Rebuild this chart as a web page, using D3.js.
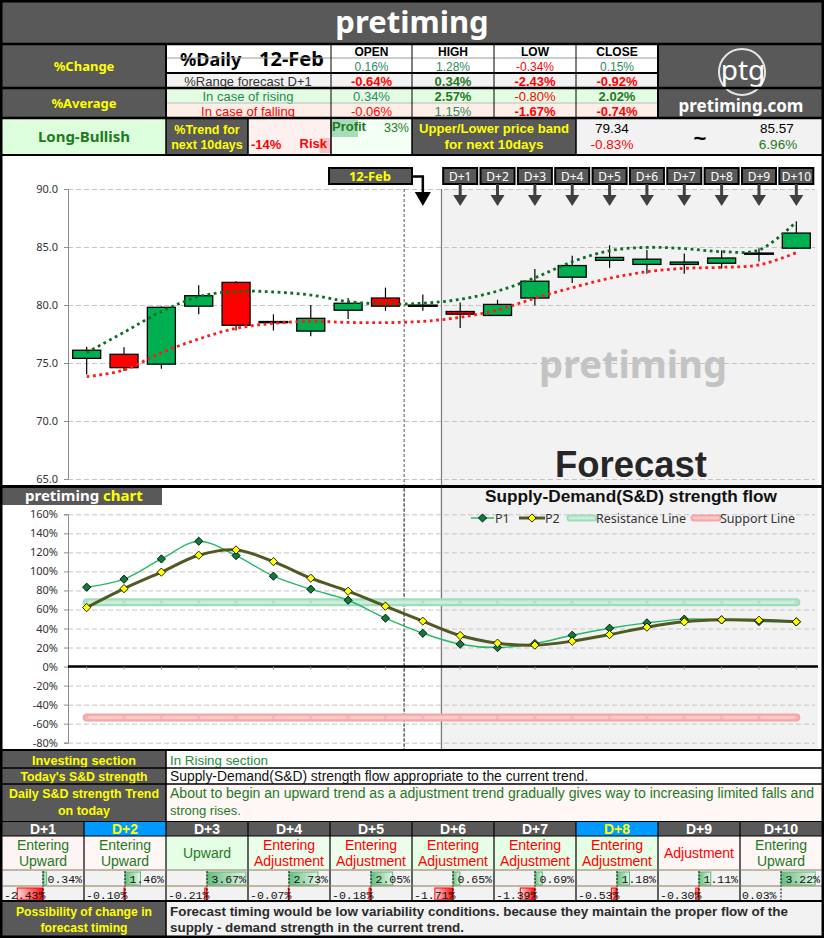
<!DOCTYPE html>
<html>
<head>
<meta charset="utf-8">
<script src="https://cdn.jsdelivr.net/npm/d3@7"></script>
<style>
  html, body { margin: 0; padding: 0; background: #fff; }
  svg { display: block; }
</style>
</head>
<body>
<svg id="board" width="824" height="938"></svg>
<script>
// ---------- data ----------
const days = ["D-9","D-8","D-7","D-6","D-5","D-4","D-3","D-2","D-1","12-Feb",
              "D+1","D+2","D+3","D+4","D+5","D+6","D+7","D+8","D+9","D+10"];
const openPx  = [75.4, 75.75, 74.9, 79.9, 81.95, 78.5, 77.75, 79.55, 80.6, 79.93,
                 79.44, 79.1, 80.6, 82.4, 83.85, 83.5, 83.5, 83.6, 84.4, 84.9];
const highPx  = [76.4, 76.35, 79.9, 81.7, 82.05, 79.2, 80.0, 80.6, 81.5, 80.9,
                 80.22, 80.45, 83.1, 84.25, 85.15, 84.75, 84.45, 84.7, 84.9, 87.2];
const lowPx   = [74.0, 74.3, 74.5, 79.2, 77.8, 77.8, 77.3, 78.8, 79.5, 79.5,
                 78.01, 79.1, 79.95, 81.9, 83.2, 82.7, 82.7, 83.15, 83.75, 84.9];
const closePx = [76.1, 74.6, 79.8, 80.8, 78.25, 78.55, 78.85, 80.15, 79.9, 79.95,
                 79.21, 80.05, 82.05, 83.4, 84.1, 83.95, 83.7, 84.05, 84.45, 86.2];
const upperBand = [75.9, 77.65, 79.43, 80.72, 81.18, 81.12, 80.86, 80.29, 80.09, 80.15,
                   80.49, 81.2, 82.35, 83.73, 84.68, 84.97, 84.86, 84.6, 84.74, 87.18];
const lowerBand = [73.82, 74.4, 75.89, 77.07, 77.99, 78.42, 78.59, 78.5, 78.48, 78.59,
                   78.94, 79.57, 80.58, 81.49, 82.3, 82.87, 83.16, 83.25, 83.45, 84.51];
const priceTicks = [65, 70, 75, 80, 85, 90];

const p1 = [83.4, 91.8, 113.1, 131.7, 116.6, 95.0, 81.3, 69.7, 50.8, 35.0,
            23.5, 20.0, 24.2, 32.9, 40.3, 45.9, 49.8, 49.1, 47.3, 47.0];
const p2 = [62.0, 81.9, 99.2, 117.0, 122.6, 110.3, 92.9, 79.2, 63.4, 47.7,
            32.6, 24.6, 22.5, 26.7, 33.6, 41.4, 47.0, 49.1, 48.7, 47.0];
const resistanceLevel = 67.6;
const supportLevel = -53.5;
const sdTicks = [-80, -60, -40, -20, 0, 20, 40, 60, 80, 100, 120, 140, 160];

const ohlcHeads = ["OPEN", "HIGH", "LOW", "CLOSE"];
const dailyChange   = [0.16, 1.28, -0.34, 0.15];
const rangeForecast = [-0.64, 0.34, -2.43, -0.92];
const avgRising     = [0.34, 2.57, -0.80, 2.02];
const avgFalling    = [-0.06, 1.15, -1.67, -0.74];
const trendProfit = 33, trendRisk = -14;
const bandLow = 79.34, bandLowPct = -0.83, bandHigh = 85.57, bandHighPct = 6.96;

const forecastDays = ["D+1","D+2","D+3","D+4","D+5","D+6","D+7","D+8","D+9","D+10"];
const forecastStatus = [["Entering","Upward"],["Entering","Upward"],["Upward"],
  ["Entering","Adjustment"],["Entering","Adjustment"],["Entering","Adjustment"],
  ["Entering","Adjustment"],["Entering","Adjustment"],["Adjustment"],["Entering","Upward"]];
const riseRates = [0.34, 1.46, 3.67, 2.73, 2.05, 0.65, 0.69, 1.18, 1.11, 3.22];
const fallRates = [-2.43, -0.10, -0.21, -0.07, -0.18, -1.71, -1.39, -0.53, -0.30, 0.03];
const highlightDays = ["D+2", "D+8"];

const investingSection = "In Rising section";
const todayStrength = "Supply-Demand(S&D) strength flow appropriate to the current trend.";
const dailyTrend = ["About to begin an upward trend as a adjustment trend gradually gives way to increasing limited falls and",
                    "strong rises."];
const timingNote = ["Forecast timing would be low variability conditions. because they maintain the proper flow of the",
                    "supply - demand strength in the current trend."];

// ---------- drawing helpers ----------
const svg = d3.select("#board");
const SANS = '"Noto Sans","Open Sans","DejaVu Sans",sans-serif';
const TAB = '"Liberation Sans",Arial,sans-serif';
const NARROW = '"Liberation Sans Narrow","Liberation Sans",Arial,sans-serif';
const MONO = '"Liberation Mono","DejaVu Sans Mono",monospace';
const DARK = "#595959", YEL = "#ffff00", TEAL = "#2d8a64", GRN = "#1e7a1e", RED = "#ff0000";

function rect(x, y, w, h, fill, g = svg) {
  return g.append("rect").attr("x", x).attr("y", y).attr("width", w).attr("height", h).attr("fill", fill);
}
// text; when a width is given, the run is shrunk if needed and stretched to that width
function text(x, y, s, o = {}, g = svg) {
  const size = o.size || 12;
  const t = g.append("text").attr("x", x).attr("y", y).text(s)
    .attr("font-family", o.family || SANS).attr("font-size", size)
    .attr("font-weight", o.weight || "normal").attr("fill", o.fill || "#000")
    .attr("text-anchor", o.anchor || "start");
  if (o.len) {
    const natural = t.node().getComputedTextLength();
    if (natural > o.len) t.attr("font-size", size * o.len / natural);
    t.attr("textLength", o.len).attr("lengthAdjust", "spacingAndGlyphs");
  }
  return t;
}
function line(x1, y1, x2, y2, stroke = "#000", sw = 1, dash = null, g = svg) {
  const l = g.append("line").attr("x1", x1).attr("y1", y1).attr("x2", x2).attr("y2", y2)
    .attr("stroke", stroke).attr("stroke-width", sw);
  if (dash) l.attr("stroke-dasharray", dash);
  return l;
}
const pct = v => v.toFixed(2) + "%";

rect(0, 0, 824, 938, "#fff");

// ---------- title ----------
rect(0, 0, 824, 44, DARK);
text(412, 33, "pretiming", { size: 31, weight: "bold", fill: "#fff", anchor: "middle" });

// ---------- header table ----------
const colX = [331, 412, 494, 576, 658];
rect(2, 44, 164, 44, DARK);
text(84, 71, "%Change", { size: 13, weight: "bold", fill: YEL, anchor: "middle" });
rect(166, 44, 492, 29, "#fff");
text(180, 66, "%Daily", { size: 18, weight: "bold" });
text(259, 66, "12-Feb", { size: 20, weight: "bold" });
rect(166, 73, 492, 15, "#f2f2f2");
text(248, 86, "%Range forecast D+1", { family: TAB, size: 13, fill: "#333", anchor: "middle" });
ohlcHeads.forEach((h, i) => {
  const cx = (colX[i] + colX[i + 1]) / 2;
  text(cx, 56, h, { family: TAB, size: 12, weight: "bold", anchor: "middle" });
  text(cx, 71, pct(dailyChange[i]), { family: TAB, size: 12, fill: dailyChange[i] < 0 ? RED : TEAL, anchor: "middle" });
  text(cx, 86, pct(rangeForecast[i]), { family: TAB, size: 13, weight: "bold", fill: rangeForecast[i] < 0 ? RED : GRN, anchor: "middle" });
});

rect(2, 88, 164, 30, DARK);
text(84, 108, "%Average", { size: 13, weight: "bold", fill: YEL, anchor: "middle" });
rect(166, 88, 492, 15, "#e3fde3");
rect(166, 103, 492, 15, "#fdefe8");
text(248, 101, "In case of rising", { family: TAB, size: 13, fill: "#1f8a4f", anchor: "middle" });
text(248, 116, "In case of falling", { family: TAB, size: 13, fill: RED, anchor: "middle" });
const risingBold = [1, 3], fallingBold = [2, 3];
ohlcHeads.forEach((h, i) => {
  const cx = (colX[i] + colX[i + 1]) / 2;
  const rb = risingBold.includes(i), fb = fallingBold.includes(i);
  text(cx, 101, pct(avgRising[i]), { family: TAB, size: 13, weight: rb ? "bold" : "normal",
    fill: avgRising[i] < 0 ? RED : (rb ? GRN : TEAL), anchor: "middle" });
  text(cx, 116, pct(avgFalling[i]), { family: TAB, size: 13, weight: fb ? "bold" : "normal",
    fill: avgFalling[i] < 0 ? RED : TEAL, anchor: "middle" });
});

// logo
rect(658, 44, 164, 74, DARK);
svg.append("circle").attr("cx", 742).attr("cy", 72).attr("r", 23)
  .attr("fill", "none").attr("stroke", "#e6e6e6").attr("stroke-width", 2);
text(743, 80, "ptg", { size: 28, fill: "#fff", anchor: "middle" });
text(741, 112, "pretiming.com", { size: 17, weight: "bold", fill: "#fff", anchor: "middle" });

// trend row
rect(2, 118, 164, 37, "#dcfedc");
text(84, 142, "Long-Bullish", { size: 15, weight: "bold", fill: GRN, anchor: "middle" });
rect(166, 118, 82, 37, DARK);
text(207, 134, "%Trend for", { family: TAB, size: 12.5, weight: "bold", fill: YEL, anchor: "middle" });
text(207, 149, "next 10days", { family: TAB, size: 12.5, weight: "bold", fill: YEL, anchor: "middle" });
rect(248, 118, 83, 37, "#fff0f0");
const trendW = d3.scaleLinear().domain([0, 100]).range([0, 82]);
rect(331 - trendW(-trendRisk), 138, trendW(-trendRisk), 15, "#f6c4c4");
text(251, 149, trendRisk + "%", { family: TAB, size: 13, weight: "bold", fill: RED });
text(327, 148, "Risk", { family: TAB, size: 13, weight: "bold", fill: RED, anchor: "end" });
rect(331, 118, 81, 37, "#f2fff2");
rect(331, 120, trendW(trendProfit), 17, "#a6dcb9");
text(332, 131, "Profit", { family: TAB, size: 13, weight: "bold", fill: GRN });
text(409, 132, trendProfit + "%", { family: TAB, size: 12.5, fill: GRN, anchor: "end" });
rect(412, 118, 164, 37, DARK);
text(494, 133, "Upper/Lower price band", { family: TAB, size: 13.5, weight: "bold", fill: YEL, anchor: "middle", len: 150 });
text(494, 149, "for next 10days", { family: TAB, size: 13.5, weight: "bold", fill: YEL, anchor: "middle" });
rect(576, 118, 246, 37, "#f2f2f2");
text(612, 133, bandLow.toFixed(2), { family: TAB, size: 13.5, anchor: "middle" });
text(612, 149, pct(bandLowPct), { family: TAB, size: 13.5, fill: RED, anchor: "middle" });
text(700, 146, "~", { family: TAB, size: 22, weight: "bold", anchor: "middle" });
text(777, 133, bandHigh.toFixed(2), { family: TAB, size: 13.5, anchor: "middle" });
text(778, 149, pct(bandHighPct), { family: TAB, size: 13.5, fill: GRN, anchor: "middle" });

// header grid lines
line(166, 58, 658, 58, "#9a9a9a", 1);
line(166, 73, 658, 73, "#000", 2);
line(166, 103, 658, 103, "#bbb", 1);
[331, 412, 494, 576].forEach(xv => line(xv, 44, xv, 118, "#000", 1));
[166, 658].forEach(xv => line(xv, 44, xv, 118, "#000", 2));
[166, 248, 331, 412, 576].forEach(xv => line(xv, 118, xv, 155, "#000", 1.5));
[44, 88, 118].forEach(yv => line(0, yv, 824, yv, "#000", 2.5));
line(0, 155, 824, 155, "#000", 2);

// ---------- candlestick chart ----------
const plotL = 68, plotR = 815, plotT = 189, plotB = 479;
const x = d3.scalePoint().domain(days).range([plotL, plotR]).padding(0.5);
const step = x.step();
const yP = d3.scaleLinear().domain([65, 90]).range([plotB, plotT]);
const nowX = x("D-1") + step / 2;
const fcX = x("12-Feb") + step / 2;

rect(fcX, plotT, 818 - fcX, 486 - plotT, "#f2f2f2");

const gridP = svg.append("g").attr("transform", `translate(${plotL},0)`)
  .call(d3.axisLeft(yP).tickValues(priceTicks).tickSize(-(plotR - plotL)).tickFormat(""));
gridP.select(".domain").remove();
gridP.selectAll("line").attr("stroke", "#c4c4c4").attr("stroke-dasharray", "5,3");

const axP = svg.append("g").attr("transform", `translate(${plotL},0)`)
  .call(d3.axisLeft(yP).tickValues(priceTicks).tickSize(4).tickPadding(6).tickFormat(d3.format(".1f")));
axP.select(".domain").attr("stroke", "#8c8c8c");
axP.selectAll("line").attr("stroke", "#8c8c8c");
axP.selectAll("text").attr("font-family", SANS).attr("font-size", 11).attr("fill", "#333");

text(633, 378, "pretiming", { size: 38, weight: "bold", fill: "#c3c3c3", anchor: "middle" });
text(631, 477, "Forecast", { family: TAB, size: 40, weight: "bold", fill: "#262626", anchor: "middle", len: 152 });

line(nowX, plotT, nowX, 750, "#555", 1, "3,2");
line(fcX, plotT, fcX, 750, "#7a7a7a", 1.2);

// candles
const candles = days.map((d, i) => ({ d, o: openPx[i], h: highPx[i], l: lowPx[i], c: closePx[i] }));
const cw = step * 0.75;
const cg = svg.append("g");
cg.selectAll(".wick").data(candles).join("line")
  .attr("x1", d => x(d.d)).attr("x2", d => x(d.d))
  .attr("y1", d => yP(d.h)).attr("y2", d => yP(d.l))
  .attr("stroke", "#000").attr("stroke-width", 1.2);
cg.selectAll(".body").data(candles.filter(d => Math.abs(d.c - d.o) >= 0.1)).join("rect")
  .attr("x", d => x(d.d) - cw / 2).attr("width", cw)
  .attr("y", d => yP(Math.max(d.o, d.c)))
  .attr("height", d => Math.abs(yP(d.o) - yP(d.c)))
  .attr("fill", d => d.c > d.o ? "#00b050" : "#ff0000")
  .attr("stroke", "#000").attr("stroke-width", 1.3);
cg.selectAll(".doji").data(candles.filter(d => Math.abs(d.c - d.o) < 0.1)).join("line")
  .attr("x1", d => x(d.d) - cw / 2 - 1).attr("x2", d => x(d.d) + cw / 2 + 1)
  .attr("y1", d => yP((d.o + d.c) / 2)).attr("y2", d => yP((d.o + d.c) / 2))
  .attr("stroke", "#000").attr("stroke-width", 2.5);

// band curves
const bandLine = d3.line().x((v, i) => x(days[i])).y(v => yP(v)).curve(d3.curveCatmullRom.alpha(0.5));
svg.append("path").attr("d", bandLine(lowerBand)).attr("fill", "none")
  .attr("stroke", "#ff1a1a").attr("stroke-width", 2.8).attr("stroke-dasharray", "2.8,3.6");
svg.append("path").attr("d", bandLine(upperBand)).attr("fill", "none")
  .attr("stroke", "#0b6e22").attr("stroke-width", 2.8).attr("stroke-dasharray", "2.8,3.6");

// today marker
const todayG = svg.append("g");
todayG.append("rect").attr("x", 329).attr("y", 168).attr("width", 83).attr("height", 16)
  .attr("fill", DARK).attr("stroke", "#000").attr("stroke-width", 2);
text(370, 181, "12-Feb", { size: 13, weight: "bold", fill: YEL, anchor: "middle" }, todayG);
const tx = x("12-Feb");
todayG.append("path").attr("d", `M412,176.5H${tx}V193`).attr("fill", "none")
  .attr("stroke", "#000").attr("stroke-width", 2.5);
todayG.append("path").attr("d", `M${tx - 8},192L${tx + 8},192L${tx},206Z`).attr("fill", "#000");

// forecast day markers
const dg = svg.append("g").selectAll("g").data(forecastDays).join("g")
  .attr("transform", d => `translate(${x(d)},0)`);
dg.append("rect").attr("x", -17).attr("y", 168).attr("width", 34).attr("height", 16)
  .attr("fill", DARK).attr("stroke", "#000").attr("stroke-width", 2);
dg.append("text").attr("y", 181).attr("text-anchor", "middle").attr("font-family", SANS)
  .attr("font-size", 12).attr("fill", "#fff").text(d => d);
dg.append("line").attr("y1", 184).attr("y2", 196).attr("stroke", "#404040").attr("stroke-width", 3);
dg.append("path").attr("d", "M-7,195L7,195L0,206Z").attr("fill", "#404040");

line(0, 486.5, 824, 486.5, "#000", 3);

// ---------- supply / demand chart ----------
const yS = d3.scaleLinear().domain([-80, 160]).range([742.7, 514.3]);
rect(fcX, 488, 818 - fcX, 262, "#f2f2f2");
line(fcX, 488, fcX, 750, "#7a7a7a", 1.2);
line(nowX, 488, nowX, 750, "#555", 1, "3,2");

const gridS = svg.append("g").attr("transform", `translate(${plotL},0)`)
  .call(d3.axisLeft(yS).tickValues(sdTicks).tickSize(-(plotR - plotL)).tickFormat(""));
gridS.select(".domain").remove();
gridS.selectAll("line").attr("stroke", "#c4c4c4").attr("stroke-dasharray", "5,3");
const axS = svg.append("g").attr("transform", `translate(${plotL},0)`)
  .call(d3.axisLeft(yS).tickValues(sdTicks).tickSize(4).tickPadding(6).tickFormat(d => d + "%"));
axS.select(".domain").attr("stroke", "#8c8c8c");
axS.selectAll("line").attr("stroke", "#8c8c8c");
axS.selectAll("text").attr("font-family", SANS).attr("font-size", 11).attr("fill", "#333");

rect(2, 488, 160, 17, DARK);
const lbl = text(25, 501, "pretiming ", { size: 15, weight: "bold", fill: "#fff" });
lbl.append("tspan").attr("fill", YEL).text("chart");

// resistance / support bands
function levelLine(level, outer, inner) {
  const y0 = yS(level), x0 = x(days[0]), x1 = x(days[days.length - 1]);
  line(x0, y0, x1, y0, outer, 8).attr("stroke-linecap", "round");
  line(x0, y0, x1, y0, inner, 3.5).attr("stroke-linecap", "round");
  days.forEach(d => {
    svg.append("path").attr("d", `M${x(d) - 1.5},${y0 - 1.5}L${x(d) + 1.5},${y0 + 1.5}M${x(d) + 1.5},${y0 - 1.5}L${x(d) - 1.5},${y0 + 1.5}`)
      .attr("stroke", outer).attr("stroke-width", 1);
  });
}
levelLine(resistanceLevel, "#a0dcbb", "#caeed9");
levelLine(supportLevel, "#f5a5a5", "#fcc9c9");

// zero line with category ticks
line(plotL, yS(0), 818, yS(0), "#000", 2.5);
days.forEach(d => line(x(d), yS(0), x(d), yS(0) + 3, "#8c8c8c", 1));

const sdLine = d3.line().x((v, i) => x(days[i])).y(v => yS(v)).curve(d3.curveCatmullRom.alpha(0.5));
svg.append("path").attr("d", sdLine(p1)).attr("fill", "none").attr("stroke", "#27b868").attr("stroke-width", 1.4);
svg.append("path").attr("d", sdLine(p2)).attr("fill", "none").attr("stroke", "#4f5a22").attr("stroke-width", 3);
const diamond = d3.symbol(d3.symbolSquare, 34);
svg.append("g").selectAll("path").data(p1).join("path")
  .attr("d", diamond).attr("transform", (v, i) => `translate(${x(days[i])},${yS(v)}) rotate(45)`)
  .attr("fill", "#0f7a3c").attr("stroke", "#000").attr("stroke-width", 0.8);
svg.append("g").selectAll("path").data(p2).join("path")
  .attr("d", diamond).attr("transform", (v, i) => `translate(${x(days[i])},${yS(v)}) rotate(45)`)
  .attr("fill", "#ffff00").attr("stroke", "#000").attr("stroke-width", 0.8);

text(631, 502, "Supply-Demand(S&D) strength flow", { family: TAB, size: 16.5, weight: "bold", fill: "#111", anchor: "middle", len: 292 });
// legend
const lgY = 518;
line(471, lgY, 494, lgY, "#27b868", 1.4);
svg.append("path").attr("d", diamond).attr("transform", `translate(482.5,${lgY}) rotate(45)`)
  .attr("fill", "#0f7a3c").attr("stroke", "#000").attr("stroke-width", 0.8);
text(495, 523, "P1", { size: 12.5, fill: "#333" });
line(519, lgY, 545, lgY, "#4f5a22", 3);
svg.append("path").attr("d", diamond).attr("transform", `translate(532,${lgY}) rotate(45)`)
  .attr("fill", "#ffff00").attr("stroke", "#000").attr("stroke-width", 0.8);
text(545, 523, "P2", { size: 12.5, fill: "#333" });
line(570, lgY, 594, lgY, "#a0dcbb", 7).attr("stroke-linecap", "round");
line(570, lgY, 594, lgY, "#caeed9", 3).attr("stroke-linecap", "round");
text(596, 523, "Resistance Line", { size: 12.5, fill: "#333" });
line(694, lgY, 718, lgY, "#f5a5a5", 7).attr("stroke-linecap", "round");
line(694, lgY, 718, lgY, "#fcc9c9", 3).attr("stroke-linecap", "round");
text(720, 523, "Support Line", { size: 12.5, fill: "#333" });

line(0, 750, 824, 750, "#000", 2);

// ---------- summary rows ----------
rect(2, 751, 164, 71, DARK);
rect(166, 751, 656, 17, "#fff");
rect(166, 768, 656, 16, "#fff");
rect(166, 784, 656, 38, "#fff6f6");
text(84, 765, "Investing section", { family: NARROW, size: 14, weight: "bold", fill: YEL, anchor: "middle", len: 104 });
text(84, 781, "Today's S&D strength", { family: NARROW, size: 14, weight: "bold", fill: YEL, anchor: "middle", len: 127 });
text(84, 798, "Daily S&D strength Trend", { family: NARROW, size: 14, weight: "bold", fill: YEL, anchor: "middle", len: 150 });
text(84, 815, "on today", { family: NARROW, size: 14, weight: "bold", fill: YEL, anchor: "middle", len: 52 });
text(170, 765, investingSection, { family: NARROW, size: 14, fill: "#1e8a3a", len: 98 });
text(170, 781, todayStrength, { family: NARROW, size: 14, fill: "#111", len: 418 });
text(170, 798, dailyTrend[0], { family: NARROW, size: 14, fill: "#1e7a1e", len: 644 });
text(170, 815, dailyTrend[1], { family: NARROW, size: 14, fill: "#1e7a1e", len: 71 });
line(0, 768, 824, 768, "#000", 1.5);
line(0, 784, 824, 784, "#000", 1.5);
line(166, 750, 166, 822, "#000", 1.5);
line(0, 822, 824, 822, "#000", 2);

// ---------- forecast table ----------
const colW = 82;
const colLeft = forecastDays.map((d, i) => 2 + i * colW);
const statusFill = ["#fff4f4", "#fff6f6", "#e6fde6", "#ecfdec", "#ecfdec", "#e6fde6", "#e6fde6", "#e6fde6", "#fff6f6", "#fff6f6"];
const barPx = d3.scaleLinear().domain([0, 1]).range([0, 10.6]);

const defs = svg.append("defs");
const gUp = defs.append("linearGradient").attr("id", "gUp");
gUp.append("stop").attr("offset", "0%").attr("stop-color", "#63be7b");
gUp.append("stop").attr("offset", "100%").attr("stop-color", "#e6f5ea");
const gDn = defs.append("linearGradient").attr("id", "gDn");
gDn.append("stop").attr("offset", "0%").attr("stop-color", "#ffd6d6");
gDn.append("stop").attr("offset", "100%").attr("stop-color", "#ff1010");

forecastDays.forEach((d, i) => {
  const cx0 = colLeft[i], mid = cx0 + colW / 2;
  const hl = highlightDays.includes(d);
  rect(cx0, 822, colW, 14, hl ? "#0099ff" : DARK);
  text(mid, 834, d, { family: TAB, size: 14, weight: "bold", fill: hl ? YEL : "#fff", anchor: "middle" });
  rect(cx0, 836, colW, 34, statusFill[i]);
  const st = forecastStatus[i];
  const up = st[st.length - 1] === "Upward";
  const col = up ? "#1e7a1e" : RED;
  if (st.length === 2) {
    text(mid, 850, st[0], { family: TAB, size: 14, fill: col, anchor: "middle" });
    text(mid, 866, st[1], { family: TAB, size: 14, fill: col, anchor: "middle" });
  } else {
    text(mid, 858, st[0], { family: TAB, size: 14, fill: col, anchor: "middle" });
  }
  rect(cx0, 870, colW, 31, "#f2f2f2");
  const ax = cx0 + 41;
  const rw = barPx(Math.max(riseRates[i], 0));
  if (rw > 0) rect(ax, 872, rw, 13, "url(#gUp)").attr("stroke", "#5cb87a").attr("stroke-width", 1);
  const fw = barPx(Math.max(-fallRates[i], 0));
  if (fw > 0) rect(ax - fw, 888, fw, 12, "url(#gDn)").attr("stroke", "#ff0000").attr("stroke-width", 1);
  line(ax, 871, ax, 901, "#000", 1, "2,1.5");
  text(cx0 + colW - 2, 883, pct(riseRates[i]), { family: MONO, size: 11.5, fill: "#111", anchor: "end" });
  text(cx0 + 2, 899, pct(fallRates[i]), { family: MONO, size: 11.5, fill: "#111" });
  if (i > 0) line(cx0, 822, cx0, 901, "#000", 1.2);
});
line(0, 836, 824, 836, "#000", 1);
line(2, 870, 822, 870, "#8c7d55", 1);
line(2, 886, 822, 886, "#8c7d55", 1);
line(0, 901, 824, 901, "#000", 2);

// ---------- timing note ----------
rect(2, 902, 164, 34, DARK);
rect(166, 902, 656, 34, "#f2f2f2");
text(84, 916, "Possibility of change in", { family: TAB, size: 13.5, weight: "bold", fill: YEL, anchor: "middle", len: 136 });
text(84, 932, "forecast timing", { family: TAB, size: 13.5, weight: "bold", fill: YEL, anchor: "middle", len: 87 });
text(170, 916, timingNote[0], { family: TAB, size: 13.5, weight: "bold", fill: "#2b2b2b", len: 618 });
text(170, 932, timingNote[1], { family: TAB, size: 13.5, weight: "bold", fill: "#2b2b2b", len: 294 });
line(166, 901, 166, 936, "#000", 1.5);

// outer frame
svg.append("rect").attr("x", 1.25).attr("y", 1.25).attr("width", 821.5).attr("height", 935.5)
  .attr("fill", "none").attr("stroke", "#000").attr("stroke-width", 2.5);
</script>
</body>
</html>
